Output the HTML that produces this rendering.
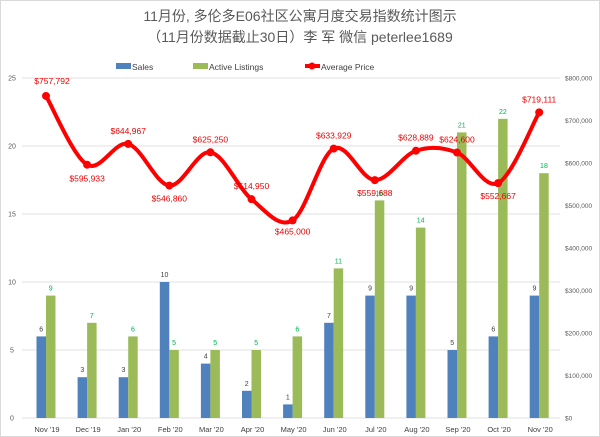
<!DOCTYPE html>
<html><head><meta charset="utf-8"><style>
body{margin:0;background:#fff;}
svg{display:block;font-family:"Liberation Sans","Noto Sans CJK SC",sans-serif;}
</style></head><body>
<svg id="c" width="600" height="437" viewBox="0 0 600 437" xmlns="http://www.w3.org/2000/svg">
<rect x="0.5" y="0.5" width="599" height="436" fill="#fff" stroke="#d9d9d9"/>
<text x="300" y="21" text-anchor="middle" font-size="14" fill="#595959">11月份, 多伦多E06社区公寓月度交易指数统计图示</text>
<text x="300" y="42" text-anchor="middle" font-size="14" fill="#595959">（11月份数据截止30日）李 军  微信  peterlee1689</text>
<rect x="116" y="63" width="15" height="6" fill="#4f81bd"/>
<text x="132" y="70" font-size="8.5" fill="#404040">Sales</text>
<rect x="193" y="63" width="15" height="6" fill="#9bbb59"/>
<text x="209" y="70" font-size="8.5" fill="#404040">Active Listings</text>
<line x1="305" y1="66" x2="320" y2="66" stroke="#f00" stroke-width="4"/>
<circle cx="312" cy="66" r="3.5" fill="#f00"/>
<text x="321" y="70" font-size="8.5" fill="#404040">Average Price</text>
<g id="g"></g>
</svg>
<script>
var g=document.getElementById('g'),h='';
var top=78,bot=418,pw=340;
for(var i=0;i<=5;i++){var y=bot-i*68;h+='<line x1="22" x2="560" y1="'+y+'" y2="'+y+'" stroke="#d9d9d9" stroke-width="0.8"/>';
h+='<text x="12" y="'+(y+2.5)+'" font-size="7" fill="#595959" text-anchor="middle">'+(i*5)+'</text>';}
for(var i=0;i<=8;i++){var y=bot-i*42.5;var s=i==0?'$0':'$'+(i*100)+',000';
h+='<text x="565" y="'+(y+2.5)+'" font-size="6.5" fill="#595959">'+s+'</text>';}
var labs=["Nov '19","Dec '19","Jan '20","Feb '20","Mar '20","Apr '20","May '20","Jun '20","Jul '20","Aug '20","Sep '20","Oct '20","Nov '20"];
var sa=[6,3,3,10,4,2,1,7,9,9,5,6,9],li=[9,7,6,5,5,5,6,11,16,14,21,22,18];
var pr=[757792,595933,644967,546860,625250,514950,465000,633929,559688,628889,624600,552667,719111];
var pts=[];
for(var i=0;i<13;i++){var cx=46+41.1*i;
var hs=sa[i]*13.6,hl=li[i]*13.6;
h+='<rect x="'+(cx-9.5)+'" y="'+(bot-hs)+'" width="9.5" height="'+hs+'" fill="#4f81bd"/>';
h+='<rect x="'+cx+'" y="'+(bot-hl)+'" width="9.5" height="'+hl+'" fill="#9bbb59"/>';
h+='<text x="'+(cx-4.75)+'" y="'+(bot-hs-5)+'" font-size="7" fill="#404040" text-anchor="middle">'+sa[i]+'</text>';
h+='<text x="'+(cx+4.75)+'" y="'+(bot-hl-5)+'" font-size="7" fill="#00b050" text-anchor="middle">'+li[i]+'</text>';
h+='<text x="'+(cx+1)+'" y="432" font-size="7.5" fill="#404040" text-anchor="middle">'+labs[i]+'</text>';
pts.push([cx,bot-pr[i]/800000*pw]);}
var d='M'+pts[0][0]+','+pts[0][1];
for(var i=0;i<12;i++){var p0=pts[Math.max(i-1,0)],p1=pts[i],p2=pts[i+1],p3=pts[Math.min(i+2,12)];
d+=' C'+(p1[0]+(p2[0]-p0[0])/6)+','+(p1[1]+(p2[1]-p0[1])/6)+' '+(p2[0]-(p3[0]-p1[0])/6)+','+(p2[1]-(p3[1]-p1[1])/6)+' '+p2[0]+','+p2[1];}
h+='<path d="'+d+'" fill="none" stroke="#f00" stroke-width="4"/>';
var off=[[6,-12],[0,17],[0,-10],[0,16],[0,-10],[0,-10],[0,14],[0,-10],[0,16],[0,-10],[0,-10],[0,16],[0,-10]];
for(var i=0;i<13;i++){h+='<circle cx="'+pts[i][0]+'" cy="'+pts[i][1]+'" r="4" fill="#f00"/>';
var s='$'+pr[i].toLocaleString('en-US');
h+='<text x="'+(pts[i][0]+off[i][0])+'" y="'+(pts[i][1]+off[i][1])+'" font-size="8.5" fill="#e00" text-anchor="middle">'+s+'</text>';}
g.innerHTML=h;
</script>
</body></html>
